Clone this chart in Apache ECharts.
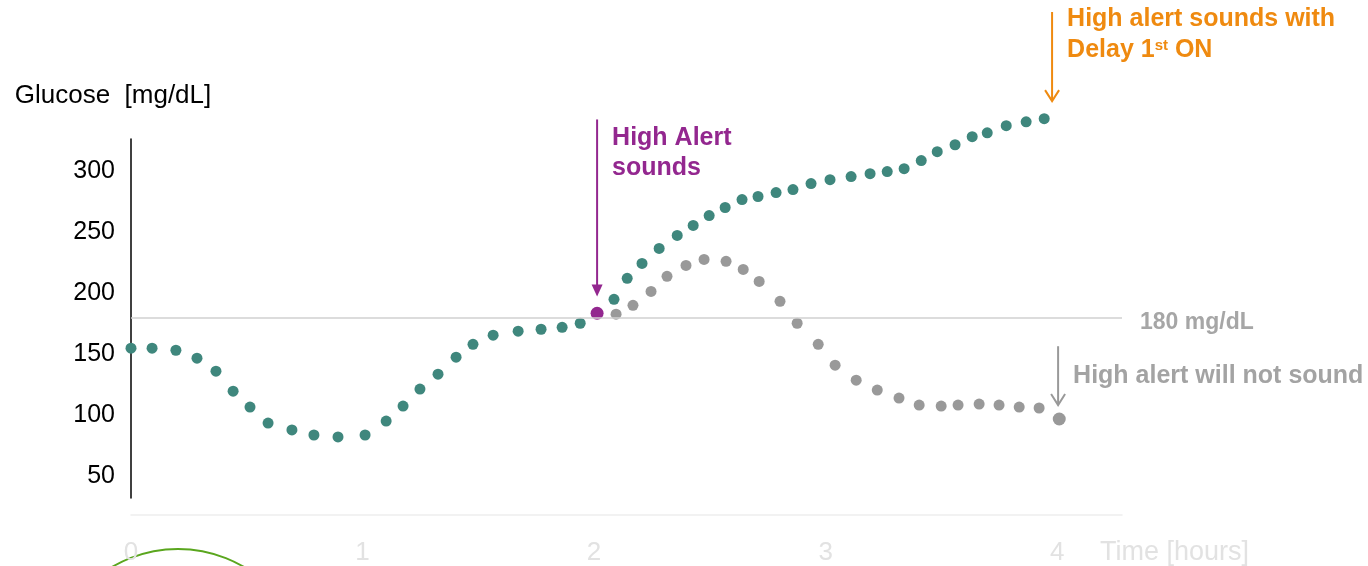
<!DOCTYPE html>
<html>
<head>
<meta charset="utf-8">
<script src="https://cdn.jsdelivr.net/npm/echarts@6/dist/echarts.min.js"></script>
<style>
  html, body { margin: 0; padding: 0; background: #ffffff; }
  #chart { width: 1368px; height: 566px; }
</style>
</head>
<body>
<div id="chart"></div>
<script>
// Glucose readings before the 180 mg/dL threshold is crossed (time in hours, glucose in mg/dL)
const leadTime = [0.0, 0.091, 0.194, 0.285, 0.367, 0.441, 0.514, 0.592, 0.695, 0.790, 0.894, 1.011,
  1.102, 1.175, 1.248, 1.326, 1.404, 1.477, 1.564, 1.672, 1.771, 1.862, 1.940];
const leadGlucose = [154.7, 154.7, 153.0, 146.5, 135.9, 119.5, 106.5, 93.4, 87.7, 83.6, 82.0, 83.6,
  95.0, 107.3, 121.2, 133.4, 147.3, 157.9, 165.3, 168.6, 170.2, 171.8, 175.1];

// Reading at which the High Alert sounds
const alertTime = [2.013];
const alertGlucose = [183.3];

// Glucose keeps rising after the alert
const riseTime = [2.086, 2.143, 2.207, 2.281, 2.359, 2.428, 2.497, 2.566, 2.639, 2.708, 2.786, 2.859,
  2.937, 3.019, 3.110, 3.192, 3.266, 3.339, 3.413, 3.482, 3.559, 3.633, 3.698, 3.780, 3.866, 3.944];
const riseGlucose = [194.7, 211.9, 224.1, 236.4, 247.0, 255.2, 263.3, 269.9, 276.4, 278.9, 282.1, 284.6,
  289.5, 292.7, 295.2, 297.6, 299.3, 301.7, 308.3, 315.6, 321.3, 327.9, 331.1, 336.9, 340.1, 342.6];

// Glucose falls back below the threshold after the alert
const fallTime = [2.095, 2.168, 2.246, 2.315, 2.397, 2.475, 2.570, 2.644, 2.713, 2.803, 2.877, 2.968,
  3.041, 3.132, 3.223, 3.317, 3.404, 3.499, 3.572, 3.663, 3.749, 3.836, 3.922, 4.009];
const fallGlucose = [182.5, 189.8, 201.2, 213.5, 222.5, 227.4, 225.8, 219.2, 209.4, 193.1, 175.1, 157.9,
  140.8, 128.5, 120.4, 113.8, 108.1, 107.3, 108.1, 108.9, 108.1, 106.5, 105.7, 96.7];

const thresholdGlucose = 180;
const yTicks = [50, 100, 150, 200, 250, 300];
const xTicks = [0, 1, 2, 3, 4];

const FONT = '"Liberation Sans", Arial, Helvetica, sans-serif';
const TEAL = '#3f877d';
const GREY = '#999999';
const PURPLE = '#93278f';
const ORANGE = '#ef8a10';

const zip = (xs, ys) => xs.map((x, i) => [x, ys[i]]);
const tealData = zip(leadTime, leadGlucose).concat(zip(riseTime, riseGlucose));
const greyData = zip(fallTime, fallGlucose);
const alertData = zip(alertTime, alertGlucose);

const chart = echarts.init(document.getElementById('chart'), null, { renderer: 'canvas' });

chart.setOption({
  animation: false,
  backgroundColor: '#ffffff',
  textStyle: { fontFamily: FONT },
  grid: { left: 131, right: 246, top: 139, bottom: 67, containLabel: false },
  xAxis: {
    type: 'value',
    min: 0,
    max: 4.28,
    interval: 1,
    offset: 17,
    axisLine: { show: true, lineStyle: { color: '#eeeeee', width: 1.5 } },
    axisTick: { show: false },
    splitLine: { show: false },
    axisLabel: { customValues: xTicks, color: '#e2e2e2', fontSize: 26, margin: 25, fontFamily: FONT },
    name: 'Time [hours]',
    nameLocation: 'end',
    nameGap: -22,
    nameTextStyle: { color: '#e2e2e2', fontSize: 27, fontFamily: FONT, align: 'left', verticalAlign: 'top', padding: [24, 0, 0, 0] }
  },
  yAxis: {
    type: 'value',
    min: 32,
    max: 326,
    axisLine: { show: true, lineStyle: { color: '#000000', width: 1.5 } },
    axisTick: { show: false },
    splitLine: { show: false },
    axisLabel: { customValues: yTicks, color: '#000000', fontSize: 25, margin: 16, fontFamily: FONT },
    name: 'Glucose  [mg/dL]',
    nameLocation: 'end',
    nameGap: 30,
    nameTextStyle: { color: '#000000', fontSize: 26, fontFamily: FONT, align: 'center', padding: [0, 36, 0, 0] }
  },
  series: [
    {
      name: 'rising',
      type: 'scatter',
      data: tealData,
      clip: false,
      symbol: 'circle',
      symbolSize: 11,
      itemStyle: { color: TEAL, opacity: 1 },
      z: 3,
      markLine: {
        silent: true,
        symbol: 'none',
        animation: false,
        data: [{ yAxis: thresholdGlucose }],
        lineStyle: { color: '#d0d0d0', width: 1.5, type: 'solid', opacity: 1 },
        label: {
          show: true,
          position: 'end',
          distance: 18,
          offset: [0, 5],
          formatter: thresholdGlucose + ' mg/dL',
          color: '#a6a6a6',
          fontWeight: 'bold',
          fontSize: 23,
          fontFamily: FONT
        }
      }
    },
    {
      name: 'falling',
      type: 'scatter',
      data: greyData,
      clip: false,
      symbol: 'circle',
      symbolSize: (val, params) => (params.dataIndex === greyData.length - 1 ? 13 : 11),
      itemStyle: { color: GREY, opacity: 1 },
      z: 3
    },
    {
      name: 'alert',
      type: 'scatter',
      data: alertData,
      clip: false,
      symbol: 'circle',
      symbolSize: 13,
      itemStyle: { color: PURPLE, opacity: 1 },
      z: 4
    }
  ]
});

// Annotation arrows, anchored in (hours, mg/dL)
const arrows = [
  { from: [alertTime[0], 342], to: [alertTime[0], 197], color: PURPLE, head: 'filled' },
  { from: [3.978, 430], to: [3.978, 357], color: ORANGE, head: 'open' },
  { from: [4.004, 156.3], to: [4.004, 108.1], color: GREY, head: 'open' }
];

const px = (p) => chart.convertToPixel({ gridIndex: 0 }, p);

function arrowGraphic(a) {
  const s = px(a.from);
  const e = px(a.to);
  const children = [{
    type: 'line',
    shape: { x1: s[0], y1: s[1], x2: e[0], y2: e[1] - (a.head === 'filled' ? 8 : 1) },
    style: { stroke: a.color, lineWidth: 2 }
  }];
  if (a.head === 'filled') {
    children.push({
      type: 'polygon',
      shape: { points: [[e[0] - 5.5, e[1] - 12], [e[0] + 5.5, e[1] - 12], [e[0], e[1]]] },
      style: { fill: a.color }
    });
  } else {
    children.push({
      type: 'polyline',
      shape: { points: [[e[0] - 7, e[1] - 11], [e[0], e[1]], [e[0] + 7, e[1] - 11]] },
      style: { stroke: a.color, lineWidth: 2, fill: null }
    });
  }
  return { type: 'group', children: children, silent: true };
}

const pA = px(arrows[0].from);
const pB = px(arrows[1].from);
const pC = px(arrows[2].from);
const pCe = px(arrows[2].to);

const graphics = arrows.map(arrowGraphic).concat([
  {
    type: 'text',
    silent: true,
    style: {
      x: pA[0] + 15, y: 123,
      text: 'High Alert\nsounds',
      fill: PURPLE,
      fontFamily: FONT, fontWeight: 'bold', fontSize: 25,
      lineHeight: 30,
      align: 'left', verticalAlign: 'top'
    }
  },
  {
    type: 'text',
    silent: true,
    style: {
      x: pB[0] + 15, y: 4,
      text: 'High alert sounds with\nDelay 1{sup|st} ON',
      fill: ORANGE,
      fontFamily: FONT, fontWeight: 'bold', fontSize: 25,
      lineHeight: 31,
      align: 'left', verticalAlign: 'top',
      rich: {
        sup: { fontFamily: FONT, fontWeight: 'bold', fontSize: 15, fill: ORANGE, verticalAlign: 'top', padding: [3, 0, 0, 0] }
      }
    }
  },
  {
    type: 'text',
    silent: true,
    style: {
      x: pC[0] + 15, y: (pC[1] + pCe[1]) / 2,
      text: 'High alert will not sound',
      fill: '#a3a3a3',
      fontFamily: FONT, fontWeight: 'bold', fontSize: 25,
      align: 'left', verticalAlign: 'middle'
    }
  },
  {
    // green outline peeking in at the bottom left
    type: 'circle',
    silent: true,
    shape: { cx: 178, cy: 679, r: 130 },
    style: { fill: null, stroke: '#5aa61e', lineWidth: 2 }
  }
]);

chart.setOption({ graphic: graphics });
</script>
</body>
</html>
